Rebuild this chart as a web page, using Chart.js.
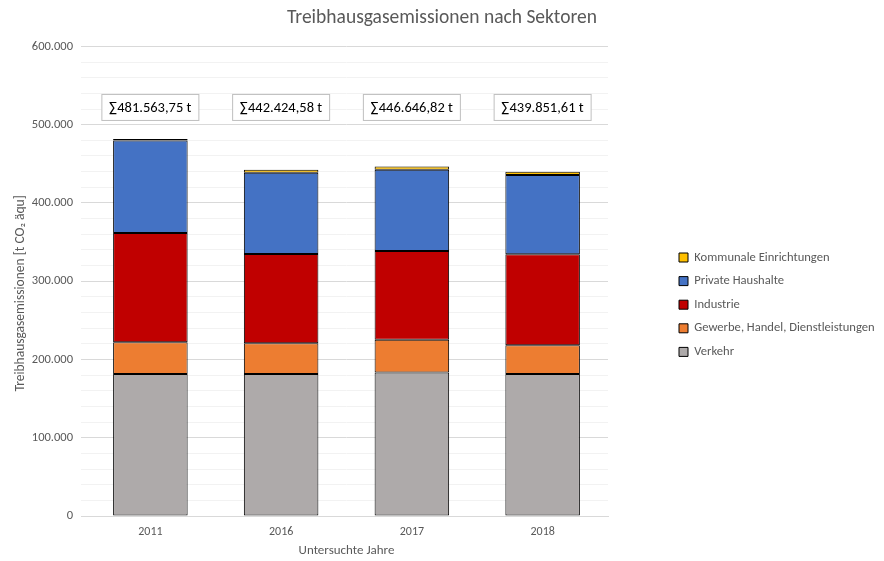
<!DOCTYPE html>
<html>
<head>
<meta charset="utf-8">
<script src="https://cdn.jsdelivr.net/npm/chart.js@4"></script>
<style>
  html, body { margin: 0; padding: 0; background: #fff; }
  #wrap { width: 884px; height: 561px; }
</style>
</head>
<body>
<div id="wrap"><canvas id="my-chart" width="884" height="561"></canvas></div>
<script>
const years = ['2011', '2016', '2017', '2018'];
const verkehr = [181500, 181500, 183200, 181500];
const gewerbe = [40600, 39300, 42000, 36700];
const industrie = [139500, 113900, 113300, 116100];
const privat = [118100, 103900, 104000, 101400];
const kommunal = [1860, 3820, 4150, 4150];
const totals = [481563.75, 442424.58, 446646.82, 439851.61];

const font = 'Calibri, Carlito, Lato, sans-serif';
const grey = '#595959';

function dots(n) {
  return String(n).replace(/\B(?=(\d{3})+(?!\d))/g, '.');
}
function germanSum(v) {
  const whole = Math.floor(v);
  const cents = Math.round((v - whole) * 100);
  return '\u2211' + dots(whole) + ',' + String(cents).padStart(2, '0') + ' t';
}

// text boxes with the totals above each bar
const sumBoxes = {
  id: 'sumBoxes',
  afterDatasetsDraw(chart) {
    const ctx = chart.ctx;
    const x = chart.scales.x, y = chart.scales.y;
    ctx.save();
    ctx.font = '14.5px ' + font;
    ctx.textAlign = 'center';
    ctx.textBaseline = 'middle';
    totals.forEach((t, i) => {
      const cx = x.getPixelForValue(i);
      const cy = y.getPixelForValue(522000);
      ctx.fillStyle = '#fff';
      ctx.fillRect(cx - 48.5, cy - 13, 97, 26);
      ctx.strokeStyle = '#bfbfbf';
      ctx.lineWidth = 1;
      ctx.strokeRect(cx - 48.5, cy - 13, 97, 26);
      ctx.fillStyle = '#000';
      ctx.fillText(germanSum(t), cx, cy + 1);
    });
    ctx.restore();
  }
};

function ds(label, data, color) {
  return {
    label: label,
    data: data,
    backgroundColor: color,
    borderColor: '#000',
    borderWidth: 1,
    borderSkipped: false,
    barPercentage: 0.57,
    categoryPercentage: 1
  };
}

const ctx = document.getElementById('my-chart').getContext('2d');
const chart = new Chart(ctx, {
  type: 'bar',
  data: {
    labels: years,
    datasets: [
      ds('Verkehr', verkehr, '#AEAAAA'),
      ds('Gewerbe, Handel, Dienstleistungen', gewerbe, '#ED7D31'),
      ds('Industrie', industrie, '#C00000'),
      ds('Private Haushalte', privat, '#4472C4'),
      ds('Kommunale Einrichtungen', kommunal, '#FFC000')
    ]
  },
  options: {
    responsive: false,
    animation: false,
    layout: { padding: 0 },
    plugins: {
      title: {
        display: true,
        text: 'Treibhausgasemissionen nach Sektoren',
        color: grey,
        font: { family: font, size: 19.5, weight: 'normal' },
        padding: { top: 6, bottom: 17 }
      },
      legend: {
        position: 'right',
        reverse: true,
        maxWidth: 216,
        title: { display: true, text: '', padding: { top: 0, bottom: 34 } },
        labels: {
          color: grey,
          font: { family: font, size: 12.6 },
          boxWidth: 9,
          boxHeight: 9,
          padding: 11
        }
      },
      tooltip: { enabled: false }
    },
    scales: {
      x: {
        stacked: true,
        grid: { display: false, drawTicks: false },
        border: { color: '#d9d9d9' },
        ticks: { color: grey, font: { family: font, size: 12 }, padding: 9 },
        title: {
          display: true,
          text: 'Untersuchte Jahre',
          color: grey,
          font: { family: font, size: 13 },
          padding: { top: 4, bottom: 2 }
        },
        afterFit(s) { s.height = 45; }
      },
      y: {
        stacked: true,
        min: 0,
        max: 600000,
        grid: {
          color: c => (c.tick && c.tick.value % 100000 === 0) ? '#d9d9d9' : '#f2f2f2',
          tickLength: 4
        },
        border: { display: false },
        ticks: {
          stepSize: 20000,
          autoSkip: false,
          color: grey,
          font: { family: font, size: 12.5 },
          padding: 8,
          callback: v => (v % 100000 === 0 ? dots(v) : '')
        },
        title: {
          display: true,
          text: 'Treibhausgasemissionen [t CO\u2082 äqu]        ',
          color: grey,
          font: { family: font, size: 13.5 },
          padding: { top: 13, bottom: 0 }
        },
        afterFit(s) { s.width = 85; }
      },
      gap: {
        type: 'linear',
        position: 'right',
        display: true,
        grid: { display: false },
        border: { display: false },
        ticks: { display: false },
        afterFit(s) { s.width = 60; }
      }
    }
  },
  plugins: [sumBoxes]
});
</script>
</body>
</html>
